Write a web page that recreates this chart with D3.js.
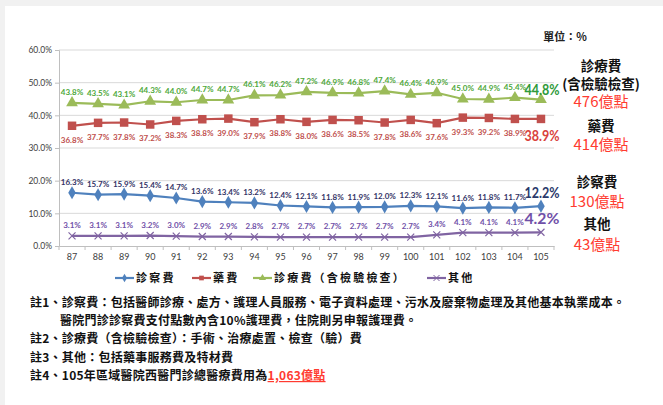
<!DOCTYPE html>
<html><head><meta charset="utf-8">
<script src="https://cdn.jsdelivr.net/npm/d3@7"></script>
<style>
html,body{margin:0;padding:0;background:#fff;}
svg{display:block;}
</style></head>
<body>
<svg id="c" width="663" height="405"></svg>
<script>
const categories = ["87","88","89","90","91","92","93","94","95","96","97","98","99","100","101","102","103","104","105"];
const treatment = [43.8,43.5,43.1,44.3,44.0,44.7,44.7,46.1,46.2,47.2,46.9,46.8,47.4,46.4,46.9,45.0,44.9,45.4,44.8];
const drug = [36.8,37.7,37.8,37.2,38.3,38.8,39.0,37.9,38.8,38.0,38.6,38.5,37.8,38.6,37.6,39.3,39.2,38.9,38.9];
const consult = [16.3,15.7,15.9,15.4,14.7,13.6,13.4,13.2,12.4,12.1,11.8,11.9,12.0,12.3,12.1,11.6,11.8,11.7,12.2];
const other = [3.1,3.1,3.1,3.2,3.0,2.9,2.9,2.8,2.7,2.7,2.7,2.7,2.7,2.7,3.4,4.1,4.1,4.1,4.2];
const yTicks = [0,10,20,30,40,50,60];
const seriesNames = ["診察費","藥費","診療費（含檢驗檢查）","其他"];
const sideTitles = [["診療費","(含檢驗檢查)"],["藥費"],["診察費"],["其他"]];
const sideAmounts = ["476億點","414億點","130億點","43億點"];
const unitText = "單位：%";
const notes = [
  "註1、診察費：包括醫師診療、處方、護理人員服務、電子資料處理、污水及廢棄物處理及其他基本執業成本。",
  "醫院門診診察費支付點數內含10%護理費，住院則另申報護理費。",
  "註2、診療費（含檢驗檢查）：手術、治療處置、檢查（驗）費",
  "註3、其他：包括藥事服務費及特材費",
  "註4、105年區域醫院西醫門診總醫療費用為"
];
const note4Highlight = "1,063億點";

const svg = d3.select("#c");
const CJK = "'Noto Sans CJK TC','Noto Sans CJK SC',sans-serif";
const NUM = "Lato,'Open Sans',sans-serif";

// frame shadow
svg.append("rect").attr("x",0).attr("y",0).attr("width",663).attr("height",6).attr("fill","#f1f1f1");
svg.append("rect").attr("x",0).attr("y",0).attr("width",5).attr("height",405).attr("fill","#f1f1f1");

const x = d3.scaleBand().domain(categories).range([59,554]);
const y = d3.scaleLinear().domain([0,60]).range([246,50]);
const cx = d => x(d) + x.bandwidth()/2;

// gridlines
svg.append("g").selectAll("line").data(yTicks.filter(v=>v>0)).join("line")
  .attr("x1",59).attr("x2",554).attr("y1",d=>y(d)).attr("y2",d=>y(d))
  .attr("stroke","#d9d9d9").attr("stroke-width",1);

// y axis
const ya = svg.append("g").attr("transform","translate(59,0)")
  .call(d3.axisLeft(y).tickValues(yTicks).tickFormat(d=>d.toFixed(1)+"%").tickSize(4).tickPadding(3));
ya.select(".domain").attr("stroke","#bfbfbf");
ya.selectAll(".tick line").attr("stroke","#bfbfbf");
ya.selectAll("text").attr("font-family",NUM).attr("font-size","8.5px").attr("fill","#404040");

// x axis
const xa = svg.append("g").attr("transform","translate(0,246)")
  .call(d3.axisBottom(x).tickSize(0).tickPadding(8));
xa.select(".domain").attr("stroke","#bfbfbf");
xa.selectAll("text").attr("font-family",NUM).attr("font-size","9px").attr("fill","#404040");
const bounds = categories.map(c=>x(c)).concat([x(categories[categories.length-1])+x.bandwidth()]);
svg.append("g").selectAll("line").data(bounds).join("line")
  .attr("x1",d=>d).attr("x2",d=>d).attr("y1",246).attr("y2",250)
  .attr("stroke","#bfbfbf");

const series = [
  {vals:treatment, line:"#9bbb59", lab:"#4ea83a", last:"#2e9a3a", marker:"tri", dy:-8, lastDy:-5},
  {vals:drug, line:"#c0504d", lab:"#c0504d", last:"#d9413c", marker:"sq", dy:17, lastDy:22},
  {vals:consult, line:"#4f81bd", lab:"#333366", last:"#2b3a6b", marker:"dia", dy:-7.5, lastDy:-8},
  {vals:other, line:"#8064a2", lab:"#7050a8", last:"#7050a8", marker:"x", dy:-8, lastDy:-8}
];

function drawMarker(g, type, color){
  if(type==="x"){
    const s = 3.5;
    g.append("path").attr("d",`M${-s},${-s}L${s},${s}M${-s},${s}L${s},${-s}`)
      .attr("stroke",color).attr("stroke-width",1.2).attr("fill","none");
  } else {
    const sym = type==="tri"?d3.symbolTriangle:type==="sq"?d3.symbolSquare:d3.symbolDiamond;
    const area = type==="tri"?60:type==="sq"?72:50;
    g.append("path").attr("d",d3.symbol().type(sym).size(area)()).attr("fill",color);
  }
}

series.forEach(s=>{
  const data = categories.map((c,i)=>({c, v:s.vals[i], i}));
  const lastI = data.length-1;
  svg.append("path").datum(data)
    .attr("d", d3.line().x(d=>cx(d.c)).y(d=>y(d.v)))
    .attr("fill","none").attr("stroke",s.line).attr("stroke-width",2.2);
  data.forEach(d=>{
    const g = svg.append("g").attr("transform",`translate(${cx(d.c)},${y(d.v)})`);
    drawMarker(g, s.marker, s.line);
  });
  svg.append("g").selectAll("text").data(data).join("text")
    .attr("x",d=>d.i===lastI ? cx(d.c)+1 - 17.5 : cx(d.c))
    .attr("y",d=>y(d.v) + (d.i===lastI?s.lastDy:s.dy))
    .attr("text-anchor",d=>d.i===lastI?"start":"middle")
    .attr("font-family",NUM).attr("font-weight","bold")
    .attr("font-size",d=>d.i===lastI?"14.5px":"8px")
    .attr("fill",d=>d.i===lastI?s.last:s.lab)
    .each(function(d){ if(d.i===lastI){ d3.select(this).attr("textLength",35).attr("lengthAdjust","spacingAndGlyphs"); } })
    .text(d=>d.v.toFixed(1)+"%");
});

// unit
svg.append("text").attr("x",565).attr("y",41).attr("text-anchor","middle")
  .attr("font-family",CJK).attr("font-weight","bold").attr("font-size","11px").attr("fill","#222")
  .text(unitText);

// side annotations
const sideY = [[71,89],[131],[187],[229]];
const amtY = [107,150,207,250];
const sideX = [601,601,597,597];
sideTitles.forEach((t,i)=>{
  t.forEach((line,j)=>{
    svg.append("text").attr("x",sideX[i]).attr("y",sideY[i][j]).attr("text-anchor","middle")
      .attr("font-family",CJK).attr("font-weight","bold").attr("font-size","13.5px").attr("fill","#111")
      .text(line);
  });
  svg.append("text").attr("x",sideX[i]).attr("y",amtY[i]).attr("text-anchor","middle")
    .attr("font-family",CJK).attr("font-size","15px").attr("fill","#ff3b30")
    .text(sideAmounts[i]);
});

// legend
const legX = [115,192,253,427];
const legSeries = [series[2],series[1],series[0],series[3]];
legSeries.forEach((s,i)=>{
  const ly = 278;
  svg.append("line").attr("x1",legX[i]).attr("x2",legX[i]+19).attr("y1",ly).attr("y2",ly)
    .attr("stroke",s.line).attr("stroke-width",2.2);
  const g = svg.append("g").attr("transform",`translate(${legX[i]+9.5},${ly})`);
  if(s.marker==="x"){
    g.append("path").attr("d","M-3,-3L3,3M-3,3L3,-3").attr("stroke",s.line).attr("stroke-width",1).attr("fill","none");
  } else {
    const sym = s.marker==="tri"?d3.symbolTriangle:s.marker==="sq"?d3.symbolSquare:d3.symbolDiamond;
    g.append("path").attr("d",d3.symbol().type(sym).size(22)()).attr("fill",s.line);
  }
  svg.append("text").attr("x",legX[i]+21).attr("y",ly+4)
    .attr("font-family",CJK).attr("font-weight","bold").attr("font-size","11px")
    .attr("letter-spacing","2.2px").attr("fill","#111")
    .text(seriesNames[i]);
});

// notes
const noteX = [30,60,30,30,30];
const noteY = [307,325,343,362,380];
notes.forEach((n,i)=>{
  const t = svg.append("text").attr("x",noteX[i]).attr("y",noteY[i])
    .attr("font-family",CJK).attr("font-weight","bold").attr("font-size","12px")
    .attr("letter-spacing","0.25px").attr("fill","#111")
    .text(n);
  if(i===4){
    t.append("tspan").attr("fill","#ff3b30").attr("text-decoration","underline").text(note4Highlight);
  }
});
</script>
</body></html>
